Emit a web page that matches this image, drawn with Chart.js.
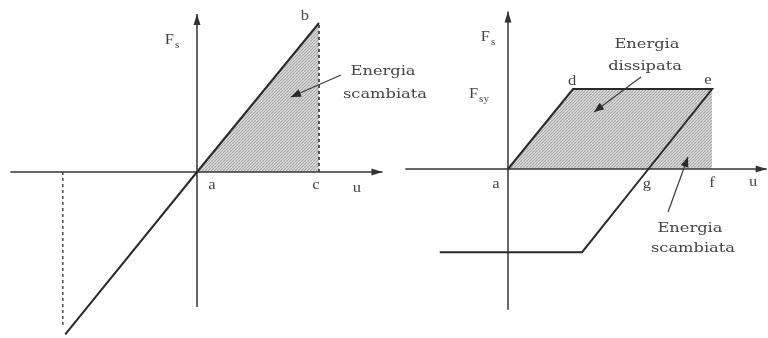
<!DOCTYPE html>
<html>
<head>
<meta charset="utf-8">
<script src="https://cdn.jsdelivr.net/npm/chart.js@4"></script>
<style>
  html, body { margin: 0; padding: 0; background: #ffffff; }
  #wrap { position: relative; width: 768px; height: 338px; }
  canvas { display: block; }
</style>
</head>
<body>
<div id="wrap"><canvas id="c" width="768" height="338"></canvas></div>
<script>
// ---- Left panel: linear elastic response (u, Fs) ----
const elasticU = [-1.08, 0, 1.0];
const elasticF = [-1.09, 0, 1.0];
const elasticPeakU = [1.0, 1.0];          // dashed drop from b to c
const elasticPeakF = [0, 1.0];
const elasticMinU = [-1.10, -1.10];       // dashed drop on the negative side
const elasticMinF = [0, -1.03];
const elasticShadeU = [0, 1.0];           // stored energy a-b-c
const elasticShadeF = [0, 1.0];
const leftAxisU = [-1.53, 1.52];
const leftAxisF = [-0.906, 1.06];

// ---- Right panel: elastic-perfectly plastic cycle ----
const cycleU = [0, 1.0, 3.14, 2.16, 1.14, -1.05];
const cycleF = [0, 1.0, 1.0, 0, -1.04, -1.04];
const cycleShadeU = [0, 1.0, 3.14];       // dissipated + stored energy a-d-e-f
const cycleShadeF = [0, 1.0, 1.0];
const rightAxisU = [-1.58, 3.98];
const rightAxisF = [-1.76, 1.97];

// ---- Point and axis labels ----
const leftLabels = ['a', 'b', 'c', 'u'];
const leftLabelU = [0.123, 0.885, 0.975, 1.311];
const leftLabelF = [-0.087, 1.047, -0.087, -0.107];
const rightLabels = ['a', 'd', 'e', 'g', 'f', 'u'];
const rightLabelU = [-0.185, 0.985, 3.077, 2.138, 3.138, 3.77];
const rightLabelF = [-0.19, 1.10, 1.11, -0.19, -0.175, -0.16];

// Axis titles: main letter + subscript
const leftTitleU = [-0.189], leftTitleF = [0.886], leftTitleSub = ['s'];
const rightTitleU = [-0.277, -0.46], rightTitleF = [1.65, 0.9375], rightTitleSub = ['s', 'sy'];

// ---- Callouts (text lines + arrow from tail to tip) ----
const leftNoteLines = ['Energia', 'scambiata'];
const leftNoteU = [1.525, 1.541];
const leftNoteF = [0.671, 0.517];
const leftArrowU = [1.18, 0.77];
const leftArrowF = [0.651, 0.503];

const dissNoteLines = ['Energia', 'dissipata'];
const dissNoteU = [2.138, 2.108];
const dissNoteF = [1.55, 1.275];
const dissArrowU = [2.046, 1.323];
const dissArrowF = [1.15, 0.7125];

const stoNoteLines = ['Energia', 'scambiata'];
const stoNoteU = [2.80, 2.846];
const stoNoteF = [-0.75, -1.0];
const stoArrowU = [2.462, 2.769];
const stoArrowF = [-0.5375, 0.15];

// ---- Helpers ----
const pts = (xs, ys) => xs.map((x, i) => ({ x: x, y: ys[i] }));

function stipple() {
  const p = document.createElement('canvas');
  p.width = 3; p.height = 3;
  const g = p.getContext('2d');
  g.fillStyle = '#cdcdcd'; g.fillRect(0, 0, 3, 3);
  g.fillStyle = '#a9a9a9';
  g.fillRect(0, 0, 1, 1); g.fillRect(2, 1, 1, 1); g.fillRect(1, 2, 1, 1);
  g.fillStyle = '#dcdcdc';
  g.fillRect(1, 0, 1, 1); g.fillRect(0, 2, 1, 1);
  return document.getElementById('c').getContext('2d').createPattern(p, 'repeat');
}
const shadeFill = stipple();

// Scale windows: origin pixel and unit size per panel
const W = 768, H = 338;
const L = { ox: 197, oy: 172, ux: 122, uy: 149 };
const R = { ox: 508, oy: 169, ux: 65, uy: 80 };

const INK = '#2a2a2a';
const AXIS = '#333333';

function lineSet(xs, ys, side, extra) {
  return Object.assign({
    data: pts(xs, ys),
    xAxisID: 'x' + side, yAxisID: 'y' + side,
    borderColor: INK, borderWidth: 2,
    pointRadius: 0, fill: false, tension: 0
  }, extra || {});
}

function drawHead(ctx, x0, y0, x1, y1, len, half) {
  const a = Math.atan2(y1 - y0, x1 - x0);
  ctx.beginPath();
  ctx.moveTo(x1, y1);
  ctx.lineTo(x1 - len * Math.cos(a) + half * Math.sin(a), y1 - len * Math.sin(a) - half * Math.cos(a));
  ctx.lineTo(x1 - len * Math.cos(a) - half * Math.sin(a), y1 - len * Math.sin(a) + half * Math.cos(a));
  ctx.closePath();
  ctx.fill();
}

function txt(ctx, s, x, y, font, stretch, align) {
  ctx.save();
  ctx.translate(x, y);
  ctx.scale(stretch, 1);
  ctx.font = font;
  ctx.textAlign = align || 'center';
  ctx.textBaseline = 'middle';
  ctx.fillText(s, 0, 0);
  ctx.restore();
}

const decor = {
  id: 'decor',
  afterDatasetsDraw(chart) {
    const ctx = chart.ctx;
    const s = chart.scales;
    const px = (side, u) => s['x' + side].getPixelForValue(u);
    const py = (side, f) => s['y' + side].getPixelForValue(f);

    // axis arrowheads
    ctx.save();
    ctx.fillStyle = AXIS;
    [['L', leftAxisU, leftAxisF], ['R', rightAxisU, rightAxisF]].forEach(([sd, au, af]) => {
      drawHead(ctx, px(sd, au[0]), py(sd, 0), px(sd, au[1]), py(sd, 0), 11, 3.5);
      drawHead(ctx, px(sd, 0), py(sd, af[0]), px(sd, 0), py(sd, af[1]), 11, 3.5);
    });

    // callout arrows
    ctx.strokeStyle = '#3a3a3a';
    ctx.fillStyle = '#2a2a2a';
    ctx.lineWidth = 1.2;
    [['L', leftArrowU, leftArrowF], ['R', dissArrowU, dissArrowF], ['R', stoArrowU, stoArrowF]].forEach(([sd, au, af]) => {
      const x0 = px(sd, au[0]), y0 = py(sd, af[0]), x1 = px(sd, au[1]), y1 = py(sd, af[1]);
      ctx.beginPath(); ctx.moveTo(x0, y0); ctx.lineTo(x1, y1); ctx.stroke();
      drawHead(ctx, x0, y0, x1, y1, 10, 4);
    });
    ctx.restore();

    // point labels
    ctx.save();
    ctx.fillStyle = '#444444';
    const pf = '15px "Liberation Serif", serif';
    leftLabels.forEach((t, i) => txt(ctx, t, px('L', leftLabelU[i]), py('L', leftLabelF[i]), pf, 1.1));
    rightLabels.forEach((t, i) => txt(ctx, t, px('R', rightLabelU[i]), py('R', rightLabelF[i]), pf, 1.1));

    // axis titles F with subscript
    const drawTitle = (sd, u, f, sub) => {
      const x = px(sd, u), y = py(sd, f);
      txt(ctx, 'F', x, y, '15px "Liberation Serif", serif', 1.1, 'right');
      txt(ctx, sub, x + 1, y + 5, '10px "Liberation Serif", serif', 1.1, 'left');
    };
    leftTitleU.forEach((u, i) => drawTitle('L', u, leftTitleF[i], leftTitleSub[i]));
    rightTitleU.forEach((u, i) => drawTitle('R', u, rightTitleF[i], rightTitleSub[i]));

    // callout texts
    const nf = '13px "DejaVu Serif", serif';
    leftNoteLines.forEach((t, i) => txt(ctx, t, px('L', leftNoteU[i]), py('L', leftNoteF[i]), nf, 1.25));
    dissNoteLines.forEach((t, i) => txt(ctx, t, px('R', dissNoteU[i]), py('R', dissNoteF[i]), nf, 1.25));
    stoNoteLines.forEach((t, i) => txt(ctx, t, px('R', stoNoteU[i]), py('R', stoNoteF[i]), nf, 1.25));
    ctx.restore();
  }
};

const datasets = [
  // curves
  lineSet(elasticU, elasticF, 'L'),
  lineSet(cycleU, cycleF, 'R'),
  // dashed projections
  lineSet(elasticPeakU, elasticPeakF, 'L', { borderDash: [3, 3], borderWidth: 1.7, borderColor: '#3a3a3a' }),
  lineSet(elasticMinU, elasticMinF, 'L', { borderDash: [3, 3], borderWidth: 1.5, borderColor: '#4a4a4a' }),
  // axes
  lineSet(leftAxisU, [0, 0], 'L', { borderWidth: 1.5, borderColor: AXIS }),
  lineSet([0, 0], leftAxisF, 'L', { borderWidth: 1.5, borderColor: AXIS }),
  lineSet(rightAxisU, [0, 0], 'R', { borderWidth: 1.5, borderColor: AXIS }),
  lineSet([0, 0], rightAxisF, 'R', { borderWidth: 1.5, borderColor: AXIS }),
  // shaded energy areas
  lineSet(elasticShadeU, elasticShadeF, 'L', { borderWidth: 0, fill: 'origin', backgroundColor: shadeFill, order: 10 }),
  lineSet(cycleShadeU, cycleShadeF, 'R', { borderWidth: 0, fill: 'origin', backgroundColor: shadeFill, order: 10 })
];

new Chart(document.getElementById('c'), {
  type: 'line',
  data: { datasets: datasets },
  options: {
    responsive: false,
    animation: false,
    devicePixelRatio: 1,
    layout: { padding: 0 },
    plugins: { legend: { display: false }, tooltip: { enabled: false } },
    scales: {
      xL: { type: 'linear', display: false, min: -L.ox / L.ux, max: (W - L.ox) / L.ux },
      yL: { type: 'linear', display: false, min: -(H - L.oy) / L.uy, max: L.oy / L.uy },
      xR: { type: 'linear', display: false, min: -R.ox / R.ux, max: (W - R.ox) / R.ux },
      yR: { type: 'linear', display: false, min: -(H - R.oy) / R.uy, max: R.oy / R.uy }
    }
  },
  plugins: [decor]
});
</script>
</body>
</html>
